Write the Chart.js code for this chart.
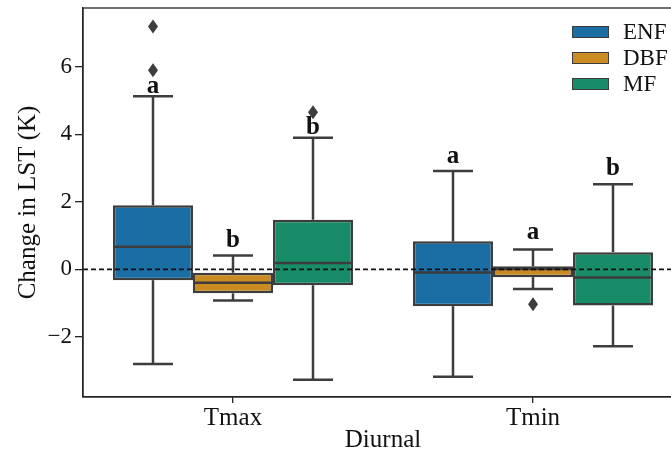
<!DOCTYPE html>
<html><head><meta charset="utf-8">
<script src="https://cdn.jsdelivr.net/npm/chart.js@4/dist/chart.umd.min.js"></script>
<style>
html,body{margin:0;padding:0;overflow:hidden;background:#fff;width:671px;height:452px}
#wrap{position:absolute;left:0;top:0;width:700px;height:452px}
</style>
</head><body><div id="wrap"><canvas id="c" width="700" height="452"></canvas></div>
<script>
// ---- data ----
const categories = ['Tmax', 'Tmin'];
const seriesNames = ['ENF', 'DBF', 'MF'];
const yTickValues = [-2, 0, 2, 4, 6];

const enfLow = [-2.80, -3.18];
const enfQ1 = [-0.32, -1.09];
const enfMedian = [0.67, -0.09];
const enfQ3 = [1.90, 0.83];
const enfHigh = [5.13, 2.91];
const enfOutliers = [[7.19, 5.90], []];
const enfLetters = ['a', 'a'];
const enfLetterY = [5.40, 3.33];

const dbfLow = [-0.92, -0.58];
const dbfQ1 = [-0.71, -0.23];
const dbfMedian = [-0.40, 0.01];
const dbfQ3 = [-0.10, 0.09];
const dbfHigh = [0.41, 0.59];
const dbfOutliers = [[], [-1.03]];
const dbfLetters = ['b', 'a'];
const dbfLetterY = [0.84, 1.08];

const mfLow = [-3.27, -2.28];
const mfQ1 = [-0.47, -1.07];
const mfMedian = [0.19, -0.24];
const mfQ3 = [1.47, 0.51];
const mfHigh = [3.90, 2.52];
const mfOutliers = [[4.65], []];
const mfLetters = ['b', 'b'];
const mfLetterY = [4.19, 3.00];

// ---- styles ----
const colors = ['#1a6ea4', '#c98b22', '#188b68'];
const edge = '#3d3d3d';
const serif = '"Liberation Serif", "Times New Roman", serif';

const stats = [
  {low: enfLow, q1: enfQ1, med: enfMedian, q3: enfQ3, high: enfHigh, out: enfOutliers, let: enfLetters, letY: enfLetterY},
  {low: dbfLow, q1: dbfQ1, med: dbfMedian, q3: dbfQ3, high: dbfHigh, out: dbfOutliers, let: dbfLetters, letY: dbfLetterY},
  {low: mfLow, q1: mfQ1, med: mfMedian, q3: mfQ3, high: mfHigh, out: mfOutliers, let: mfLetters, letY: mfLetterY}
];

function seg(ctx, x1, y1, x2, y2) { ctx.beginPath(); ctx.moveTo(x1, y1); ctx.lineTo(x2, y2); ctx.stroke(); }

const boxPlugin = {
  id: 'boxextras',
  afterDatasetsDraw(chart) {
    const ctx = chart.ctx, ys = chart.scales.y, a = chart.chartArea;
    ctx.save();
    ctx.beginPath(); ctx.rect(a.left, a.top, a.right - a.left, a.bottom - a.top); ctx.clip();
    ctx.lineCap = 'butt';
    stats.forEach((s, di) => {
      const meta = chart.getDatasetMeta(di);
      meta.data.forEach((bar, ci) => {
        const x = bar.x, half = bar.width / 2;
        const pQ1 = ys.getPixelForValue(s.q1[ci]), pQ3 = ys.getPixelForValue(s.q3[ci]);
        const pLo = ys.getPixelForValue(s.low[ci]), pHi = ys.getPixelForValue(s.high[ci]);
        const pMed = ys.getPixelForValue(s.med[ci]);
        ctx.strokeStyle = edge; ctx.lineWidth = 2.5;
        seg(ctx, x, pQ3, x, pHi);
        seg(ctx, x, pQ1, x, pLo);
        seg(ctx, x - half / 2, pHi, x + half / 2, pHi);
        seg(ctx, x - half / 2, pLo, x + half / 2, pLo);
        seg(ctx, x - half + 1, pMed, x + half - 1, pMed);
        // outliers
        ctx.fillStyle = edge;
        s.out[ci].forEach(v => {
          const py = ys.getPixelForValue(v);
          ctx.beginPath();
          ctx.moveTo(x, py - 7); ctx.lineTo(x + 5, py); ctx.lineTo(x, py + 7); ctx.lineTo(x - 5, py);
          ctx.closePath(); ctx.fill();
        });
      });
    });
    // zero dashed line
    const p0 = ys.getPixelForValue(0);
    ctx.strokeStyle = '#111'; ctx.lineWidth = 1.6; ctx.setLineDash([5, 3]);
    seg(ctx, a.left, p0, a.right, p0);
    ctx.setLineDash([]);
    ctx.restore();

    // letters
    ctx.save();
    ctx.font = 'bold 25px ' + serif;
    ctx.fillStyle = '#111'; ctx.textAlign = 'center'; ctx.textBaseline = 'middle';
    stats.forEach((s, di) => {
      const meta = chart.getDatasetMeta(di);
      meta.data.forEach((bar, ci) => {
        ctx.fillText(s.let[ci], bar.x, ys.getPixelForValue(s.letY[ci]));
      });
    });
    ctx.restore();

    // frame
    ctx.save();
    ctx.strokeStyle = '#262626'; ctx.lineWidth = 1.3;
    ctx.strokeRect(a.left, a.top, a.right - a.left, a.bottom - a.top);
    ctx.restore();

    // legend
    ctx.save();
    ctx.font = '23px ' + serif;
    ctx.textAlign = 'left'; ctx.textBaseline = 'middle';
    seriesNames.forEach((n, i) => {
      const lx = a.right - 111, ly = a.top + 24 + i * 26;
      ctx.fillStyle = colors[i];
      ctx.fillRect(lx, ly - 6, 37, 12);
      ctx.strokeStyle = edge; ctx.lineWidth = 1;
      ctx.strokeRect(lx + 0.5, ly - 5.5, 36, 11);
      ctx.fillStyle = '#111';
      ctx.fillText(n, lx + 51, ly + 1);
    });
    ctx.restore();
  }
};

new Chart(document.getElementById('c'), {
  type: 'bar',
  data: {
    labels: categories,
    datasets: seriesNames.map((n, i) => ({
      label: n,
      data: categories.map((c, ci) => [stats[i].q1[ci], stats[i].q3[ci]]),
      backgroundColor: colors[i],
      borderColor: edge,
      borderWidth: 2.5,
      borderSkipped: false,
      categoryPercentage: 0.8,
      barPercentage: 1.0
    }))
  },
  options: {
    responsive: false,
    animation: false,
    events: [],
    layout: {padding: {left: 0, top: 8, right: 17, bottom: 0}},
    plugins: {legend: {display: false}, tooltip: {enabled: false}},
    scales: {
      x: {
        grid: {display: true, drawOnChartArea: false, drawTicks: true, tickLength: 6, offset: false, color: '#262626', lineWidth: 1.3},
        border: {display: true, color: '#262626', width: 1.3},
        ticks: {font: {family: serif, size: 25}, color: '#111', padding: 0},
        title: {display: true, text: 'Diurnal', font: {family: serif, size: 25}, color: '#111', padding: {top: 0, bottom: -3}},
        afterFit(s) { s.height = 55; s.paddingLeft = 0; s.paddingRight = 0; }
      },
      y: {
        min: -3.78, max: 7.74,
        afterBuildTicks(s) { s.ticks = yTickValues.map(v => ({value: v})); },
        grid: {display: true, drawOnChartArea: false, drawTicks: true, tickLength: 8, color: '#262626', lineWidth: 1.3},
        border: {display: true, color: '#262626', width: 1.3},
        ticks: {font: {family: serif, size: 23}, color: '#111', padding: 3,
          callback: v => (v < 0 ? '\u2212' + Math.abs(v) : String(v))},
        title: {display: true, text: 'Change in LST (K)', font: {family: serif, size: 25}, color: '#111', padding: {top: 13, bottom: 0}},
        afterFit(s) { s.width = 83; s.paddingTop = 0; s.paddingBottom = 0; }
      }
    }
  },
  plugins: [boxPlugin]
});
</script>
</body></html>
